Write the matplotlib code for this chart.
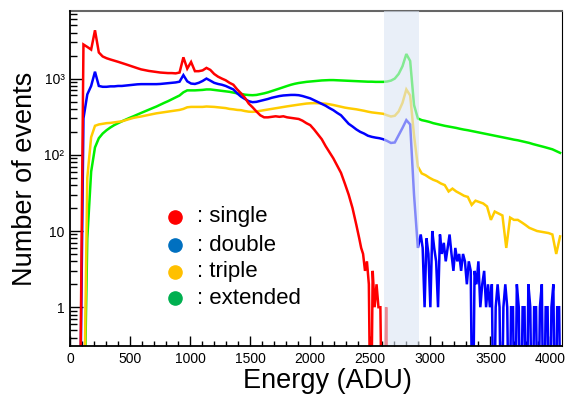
import numpy as np
import matplotlib
matplotlib.use("Agg")
import matplotlib.pyplot as plt
from matplotlib.ticker import MultipleLocator, LogLocator, FixedLocator, FixedFormatter, NullFormatter

plt.rcParams['font.family'] = ['Liberation Sans', 'DejaVu Sans']

# ---- data: 32-ADU bins starting at 0 ----
bin_width = 32

# single: 32-ADU bins up to 2400, then 16-ADU bins to 4096
single_main = [
    0, 0, 0, 2800, 2600, 2400, 4300, 2200, 1950, 1850,
    1780, 1720, 1660, 1600, 1540, 1480, 1420, 1370, 1320, 1290,
    1260, 1240, 1220, 1200, 1190, 1180, 1180, 1170, 1200, 1900,
    1350, 1650, 1250, 1250, 1280, 1380, 1300, 1150, 1060, 1000,
    950, 880, 830, 720, 640, 560, 470, 420, 370, 330,
    310, 310, 315, 320, 315, 320, 310, 305, 300, 295,
    280, 260, 245, 215, 185, 160, 130, 108, 90, 72,
    58, 42, 30, 20, 12,
]
single_tail_start = 2400
single_tail_width = 16
single_tail = [
    8, 6, 5, 3, 4, 2, 0, 3, 1, 2,
    1, 1, 0, 0, 1, 0, 0, 0, 0, 0,
    0, 0, 0, 0, 0, 0, 0, 0, 0, 0,
    0, 0, 0, 0, 0, 0, 0, 0, 0, 0,
    0, 0, 0, 0, 0, 0, 0, 0, 0, 0,
    0, 0, 0, 0, 0, 0, 0, 0, 0, 0,
    0, 0, 0, 0, 0, 0, 0, 0, 0, 0,
    0, 0, 0, 0, 0, 0, 0, 0, 0, 0,
    0, 0, 0, 0, 0, 0, 0, 0, 0, 0,
    0, 0, 0, 0, 0, 0, 0, 0, 0, 0,
    0, 0, 0, 0, 0, 0,
]

# double: 32-ADU bins up to 2912, then 16-ADU bins to 4096
double_main = [
    0, 0, 0, 300, 620, 800, 1230, 800, 780, 780,
    790, 790, 800, 800, 810, 820, 830, 840, 845, 845,
    845, 845, 845, 850, 860, 870, 880, 890, 910, 1110,
    920, 860, 850, 880, 930, 1000, 940, 880, 850, 830,
    800, 760, 720, 640, 580, 540, 505, 490, 495, 510,
    525, 540, 560, 575, 590, 600, 605, 610, 610, 605,
    590, 570, 550, 520, 490, 465, 440, 410, 385, 355,
    330, 290, 255, 235, 215, 200, 190, 178, 172, 168,
    165, 160, 152, 143, 145, 180, 225, 285, 250, 30,
    6,
]
double_tail_start = 2912
double_tail_width = 16
double_tail = [
    9, 6, 1, 8, 5, 1, 10, 6, 4, 1,
    9, 5, 7, 4, 6, 9, 5, 3, 6, 4,
    5, 3, 5, 4, 2, 4, 3, 0, 3, 2,
    4, 1, 2, 3, 1, 2, 1, 2, 0, 1,
    2, 1, 0, 1, 2, 1, 0, 1, 1, 0,
    2, 1, 0, 1, 1, 0, 2, 1, 0, 1,
    1, 0, 1, 2, 0, 1, 1, 0, 1, 2,
    0, 1, 1, 0,
]

triple = [
    0, 0, 0, 0, 50, 170, 240, 250, 255, 260,
    262, 266, 270, 275, 285, 295, 305, 312, 318, 326,
    334, 342, 350, 356, 362, 368, 374, 380, 388, 400,
    420, 425, 425, 425, 425, 430, 428, 425, 420, 415,
    410, 400, 395, 388, 385, 375, 368, 366, 370, 378,
    385, 392, 400, 408, 415, 425, 432, 440, 448, 455,
    462, 470, 474, 476, 475, 472, 468, 460, 450, 438,
    426, 416, 408, 402, 395, 387, 378, 368, 360, 355,
    350, 345, 330, 318, 325, 370, 480, 720, 600, 180,
    70, 57, 54, 50, 47, 45, 42, 40, 33, 36,
    33, 31, 29, 28, 22, 25, 24, 23, 21, 14,
    18, 17, 16, 6, 15, 14, 14, 13, 12, 11,
    10.5, 10, 9.8, 9.6, 9.4, 9, 5, 8.5,
]

extended = [
    0, 0, 0, 0, 8, 60, 125, 165, 190, 210,
    228, 245, 260, 275, 290, 305, 320, 337, 354, 372,
    390, 410, 430, 455, 480, 505, 535, 565, 600, 660,
    700, 700, 700, 705, 710, 720, 720, 710, 700, 690,
    680, 670, 655, 640, 630, 615, 608, 605, 610, 625,
    640, 660, 685, 710, 740, 770, 800, 830, 855, 875,
    890, 905, 915, 925, 935, 945, 950, 955, 955, 950,
    945, 940, 935, 930, 925, 920, 915, 910, 910, 905,
    905, 905, 915, 940, 1000, 1150, 1450, 2100, 1700, 450,
    300, 285, 278, 270, 260, 253, 247, 240, 235, 230,
    225, 219, 214, 210, 205, 200, 196, 191, 186, 182,
    178, 174, 170, 166, 162, 158, 155, 151, 147, 143,
    138, 134, 130, 126, 122, 118, 112, 106,
]

legend_labels = [": single", ": double", ": triple", ": extended"]
legend_colors = ["#FF0000", "#0070C0", "#FFC000", "#00B050"]
line_colors = ["#FF0000", "#0000FF", "#FFCC00", "#00F000"]

band_range = (2610, 2905)
x_ticks = [0, 500, 1000, 1500, 2000, 2500, 3000, 3500, 4000]
y_ticks = [1, 10, 100, 1000]
y_tick_labels = ["1", "10", "10²", "10³"]

# ---- figure ----
fig = plt.figure(figsize=(5.68, 3.99), dpi=100)
ax = fig.add_axes([70/568, 1-346/399, 492/568, 335/399])

def centers(n, start, width):
    return start + width * (np.arange(n) + 0.5)

x_single = np.concatenate([centers(len(single_main), 0, bin_width),
                           centers(len(single_tail), single_tail_start, single_tail_width)])
y_single = list(single_main) + list(single_tail)
x_double = np.concatenate([centers(len(double_main), 0, bin_width),
                           centers(len(double_tail), double_tail_start, double_tail_width)])
y_double = list(double_main) + list(double_tail)
x_triple = centers(len(triple), 0, bin_width)
x_ext = centers(len(extended), 0, bin_width)

floor = 1e-2
curves = [(x_ext, extended), (x_triple, triple), (x_double, y_double), (x_single, y_single)]
for (xx, vals), col, z in zip(curves, line_colors[::-1], [2, 3, 4, 5]):
    v = np.maximum(np.asarray(vals, dtype=float), floor)
    ax.plot(xx, v, color=col, lw=1.8, zorder=z, solid_joinstyle='miter')

ax.axvspan(band_range[0], band_range[1], color="#dbe5f4", alpha=0.6, lw=0, zorder=6)

ax.set_xlim(0, 4096)
ax.set_yscale('log')
ax.set_ylim(0.31, 7700)

ax.xaxis.set_major_locator(FixedLocator(x_ticks))
ax.xaxis.set_minor_locator(MultipleLocator(100))
ax.yaxis.set_major_locator(FixedLocator(y_ticks))
ax.yaxis.set_major_formatter(FixedFormatter(y_tick_labels))
ax.yaxis.set_minor_locator(LogLocator(base=10, subs=np.arange(2, 10)))
ax.yaxis.set_minor_formatter(NullFormatter())

ax.tick_params(axis='x', which='major', direction='in', length=7, width=1.0, labelsize=10, pad=4)
ax.tick_params(axis='x', which='minor', direction='in', length=3.5, width=1.0)
ax.tick_params(axis='y', which='major', direction='in', length=9, width=1.0, labelsize=10, pad=4)
ax.tick_params(axis='y', which='minor', direction='in', length=5, width=1.0)

for s in ['left', 'bottom']:
    ax.spines[s].set_linewidth(1.3)
    ax.spines[s].set_zorder(10)
ax.spines['top'].set_color('#666666')
ax.spines['top'].set_linewidth(1.5)
ax.spines['right'].set_linewidth(0.8)

ax.set_xlabel("Energy (ADU)", fontsize=19.5)
ax.xaxis.set_label_coords(0.523, -0.066)
ax.set_ylabel("Number of events", fontsize=19.5)
ax.yaxis.set_label_coords(-0.066, 0.5)

leg_y = [0.386, 0.301, 0.222, 0.142]
for lab, col, yy in zip(legend_labels, legend_colors, leg_y):
    ax.plot([0.213], [yy], 'o', color=col, ms=9.5, transform=ax.transAxes, zorder=12, clip_on=False)
    ax.text(0.2575, yy, lab, transform=ax.transAxes, fontsize=16, va='center', ha='left', zorder=12)

fig.savefig("out.png", dpi=100)
